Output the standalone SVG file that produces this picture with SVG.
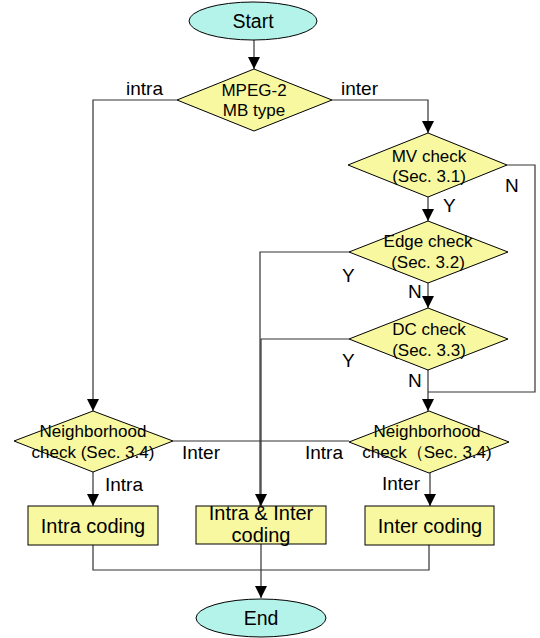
<svg xmlns="http://www.w3.org/2000/svg" width="540" height="638" viewBox="0 0 540 638">
  <style>
    .term { fill: #b4f3ea; stroke: #000; stroke-width: 1; }
    .dec { fill: #f8f8a0; stroke: #000; stroke-width: 1; }
    .proc { fill: #f8f8a0; stroke: #000; stroke-width: 1; }
    .conn { fill: none; stroke: #333; stroke-width: 1.2; }
    text { font-family: "Liberation Sans", Arial, sans-serif; fill: #000; }
    .t19 { font-size: 19.5px; text-anchor: middle; }
    .t16 { font-size: 17px; text-anchor: middle; }
    .t20 { font-size: 20px; text-anchor: middle; }
    .lbl { font-size: 19px; }
  </style>
  <defs>
    <marker id="arrow" markerUnits="userSpaceOnUse" markerWidth="12" markerHeight="12" viewBox="0 0 12 12" refX="12" refY="6" orient="auto">
      <path d="M0,0 L12,6 L0,12 z" fill="#000"/>
    </marker>
  </defs>

  <!-- connectors -->
  <g id="connectors">
    <path class="conn" d="M254,40 V69" marker-end="url(#arrow)"/>
    <path class="conn" d="M177,100 H93 V411" marker-end="url(#arrow)"/>
    <path class="conn" d="M332,100 H428 V133" marker-end="url(#arrow)"/>
    <path class="conn" d="M428,197 V221" marker-end="url(#arrow)"/>
    <path class="conn" d="M507,165 H535 V392 H428"/>
    <path class="conn" d="M428,283 V308" marker-end="url(#arrow)"/>
    <path class="conn" d="M428,370 V411" marker-end="url(#arrow)"/>
    <path class="conn" d="M349,252 H260 V506"/>
    <path class="conn" d="M349,339 H261 V506" marker-end="url(#arrow)"/>
    <path class="conn" d="M173,441 H349"/>
    <path class="conn" d="M93,472 V506" marker-end="url(#arrow)"/>
    <path class="conn" d="M430,473 V506" marker-end="url(#arrow)"/>
    <path class="conn" d="M93,545 V570 H429 V545"/>
    <path class="conn" d="M261,544 V598" marker-end="url(#arrow)"/>
  </g>

  <!-- edge labels -->
  <g id="labels">
    <text class="lbl" x="126" y="95">intra</text>
    <text class="lbl" x="341" y="95">inter</text>
    <text class="lbl" x="505" y="192">N</text>
    <text class="lbl" x="443" y="212">Y</text>
    <text class="lbl" x="342" y="282">Y</text>
    <text class="lbl" x="408" y="298">N</text>
    <text class="lbl" x="342" y="367">Y</text>
    <text class="lbl" x="408" y="387">N</text>
    <text class="lbl" x="182" y="459">Inter</text>
    <text class="lbl" x="305" y="459">Intra</text>
    <text class="lbl" x="105" y="491">Intra</text>
    <text class="lbl" x="382" y="490">Inter</text>
  </g>

  <g id="start">
    <ellipse class="term" cx="253" cy="21" rx="64" ry="19"/>
    <text class="t19" x="253" y="28">Start</text>
  </g>

  <g id="mb-type">
    <polygon class="dec" points="254,69 332,100 254,131 177,100"/>
    <text class="t16" x="254" y="96">MPEG-2</text>
    <text class="t16" x="254" y="116">MB type</text>
  </g>

  <g id="mv-check">
    <polygon class="dec" points="428,133 507,165 428,197 348,165"/>
    <text class="t16" x="429" y="162">MV check</text>
    <text class="t16" x="429" y="182">(Sec. 3.1)</text>
  </g>

  <g id="edge-check">
    <polygon class="dec" points="428,221 508,252 428,283 349,252"/>
    <text class="t16" x="428" y="247">Edge check</text>
    <text class="t16" x="428" y="268">(Sec. 3.2)</text>
  </g>

  <g id="dc-check">
    <polygon class="dec" points="428,308 508,339 428,370 349,339"/>
    <text class="t16" x="429" y="335">DC check</text>
    <text class="t16" x="429" y="356">(Sec. 3.3)</text>
  </g>

  <g id="neighborhood-left">
    <polygon class="dec" points="93,411 173,441 93,472 14,441"/>
    <text class="t16" x="93" y="437">Neighborhood</text>
    <text class="t16" x="93" y="458">check (Sec. 3.4)</text>
  </g>

  <g id="neighborhood-right">
    <polygon class="dec" points="429,411 509,442 429,473 349,442"/>
    <text class="t16" x="427" y="437">Neighborhood</text>
    <text class="t16" x="427" y="458">check（Sec. 3.4)</text>
  </g>

  <g id="intra-coding">
    <rect class="proc" x="28" y="506" width="130" height="39"/>
    <text class="t20" x="93" y="533">Intra coding</text>
  </g>

  <g id="intra-inter-coding">
    <rect class="proc" x="196" y="506" width="130" height="38"/>
    <text class="t20" x="261" y="520">Intra &amp; Inter</text>
    <text class="t20" x="261" y="542">coding</text>
  </g>

  <g id="inter-coding">
    <rect class="proc" x="365" y="506" width="129" height="39"/>
    <text class="t20" x="430" y="533">Inter coding</text>
  </g>

  <g id="end">
    <ellipse class="term" cx="261" cy="618" rx="65" ry="19"/>
    <text class="t19" x="261" y="625">End</text>
  </g>
</svg>
